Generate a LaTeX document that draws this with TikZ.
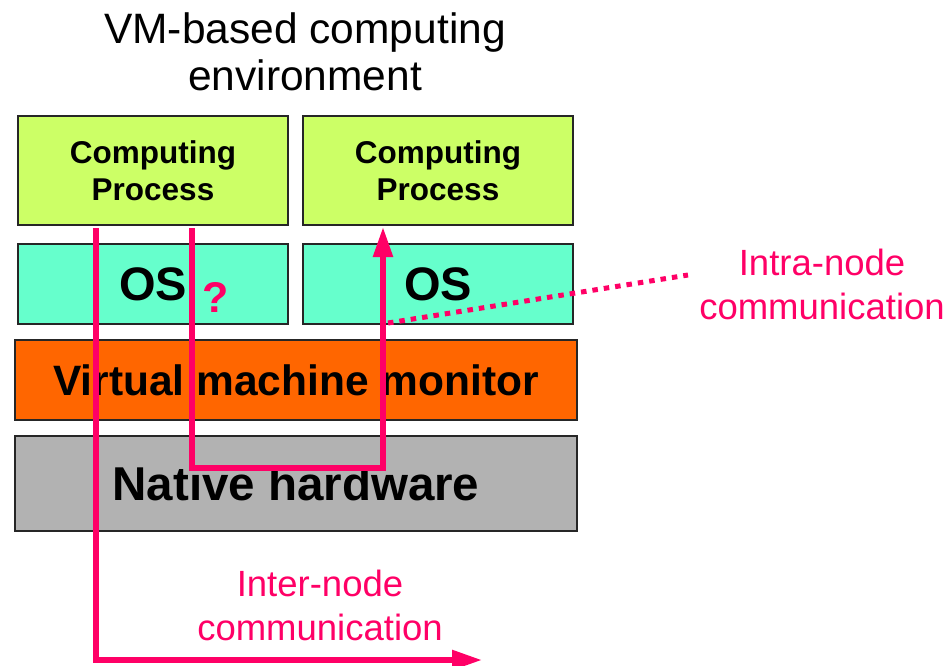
\documentclass[tikz,border=0pt]{standalone}
\usepackage{fontspec}
\setmainfont{Liberation Sans}
\usetikzlibrary{arrows.meta}
\definecolor{procgreen}{HTML}{CCFF66}
\definecolor{osmint}{HTML}{66FFCC}
\definecolor{vmmorange}{HTML}{FF6600}
\definecolor{hwgrey}{HTML}{B2B2B2}
\definecolor{linkpink}{HTML}{FF0066}
\begin{document}
\begin{tikzpicture}[x=1pt,y=-1pt,
  layer/.style={draw=black!85,line width=1.8pt,inner sep=0pt,outer sep=0pt,anchor=north west,font=\bfseries},
  proc/.style={layer,fill=procgreen,minimum width=270pt,minimum height=109pt,align=center,font=\bfseries\fontsize{31.5}{37}\selectfont},
  osbox/.style={layer,fill=osmint,minimum width=270pt,minimum height=80pt,font=\bfseries\fontsize{47}{52}\selectfont},
  link/.style={draw=linkpink,line width=5.5pt},
  tip/.style={-{Triangle[length=30pt,width=19pt]}},
  note/.style={text=linkpink,align=center,font=\fontsize{36.5}{44}\selectfont},
  dotlink/.style={draw=linkpink,line width=5pt,dash pattern=on 5.5pt off 6pt}]
\useasboundingbox (0,0) rectangle (951,665);

% title
\node[align=center,font=\fontsize{42.5}{47}\selectfont] (title) at (305,52) {VM-based computing\\environment};

% software stack
\node[proc] (cp1) at (18,116) {Computing\\Process};
\node[proc] (cp2) at (303,116) {Computing\\Process};
\node[osbox] (os1) at (18,244) {OS};
\node[osbox] (os2) at (303,244) {OS};
\node[layer,fill=vmmorange,minimum width=562pt,minimum height=80pt,font=\bfseries\fontsize{42.5}{46}\selectfont] (vmm) at (15,340) {Virtual machine monitor};
\node[layer,fill=hwgrey,minimum width=562pt,minimum height=95pt,font=\bfseries\fontsize{47.5}{52}\selectfont] (hw) at (15,436) {Native hardware};

% question mark between the guests
\node[text=linkpink,font=\bfseries\fontsize{43}{48}\selectfont] (q) at (216,297) {?};

% path endpoints
\coordinate (a0) at ([yshift=-3pt]cp1.south west -| 96,0);
\coordinate (a1) at (96,660);
\coordinate (a2) at (482,660);
\coordinate (b0) at ([yshift=-3pt]cp1.south west -| 192,0);
\coordinate (b1) at (192,468);
\coordinate (b2) at (383,468);
\coordinate (b3) at ([yshift=-2pt]cp2.south west -| 383,0);
\coordinate (d0) at (388,323);
\coordinate (d1) at (688,275);

% inter-node path
\draw[link,tip] (a0) -- (a1) -- (a2);
% intra-node path
\draw[link,tip] (b0) -- (b1) -- (b2) -- (b3);
% pointer to the intra-node label
\draw[dotlink] (d0) -- (d1);

\node[note] (intra) at (822,284) {Intra-node\\communication};
\node[note] (inter) at (320,605) {Inter-node\\communication};
\end{tikzpicture}
\end{document}
